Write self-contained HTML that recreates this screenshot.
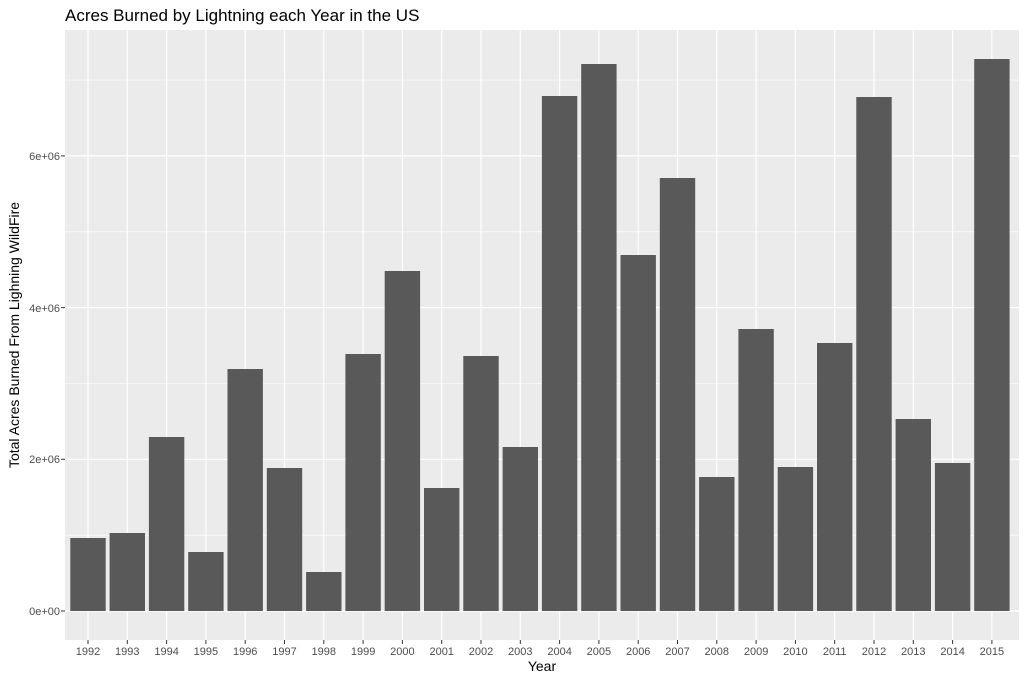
<!DOCTYPE html>
<html><head><style>body{margin:0;background:#fff}</style></head><body>
<svg width="1024" height="682" xmlns="http://www.w3.org/2000/svg" font-family="Liberation Sans, sans-serif">
<rect width="1024" height="682" fill="#fff"/>
<text x="65" y="21" font-size="17" fill="#000">Acres Burned by Lightning each Year in the US</text>
<rect x="65" y="30" width="954" height="610" fill="#ebebeb"/>
<g stroke="#fff" stroke-width="0.6">
<line x1="65" x2="1019" y1="535.2" y2="535.2"/><line x1="65" x2="1019" y1="383.5" y2="383.5"/><line x1="65" x2="1019" y1="231.8" y2="231.8"/><line x1="65" x2="1019" y1="80.1" y2="80.1"/>
</g>
<g stroke="#fff" stroke-width="1.2">
<line x1="65" x2="1019" y1="611" y2="611"/><line x1="65" x2="1019" y1="459.3" y2="459.3"/><line x1="65" x2="1019" y1="307.6" y2="307.6"/><line x1="65" x2="1019" y1="155.9" y2="155.9"/>
</g>
<g id="v" stroke="#fff" stroke-width="1.2"></g>
<g id="b" fill="#595959"></g>
<g id="t" font-size="11" fill="#4d4d4d" text-anchor="middle"></g>
<g font-size="11" fill="#4d4d4d" text-anchor="end">
<text x="60" y="615">0e+00</text><text x="60" y="463">2e+06</text><text x="60" y="312">4e+06</text><text x="60" y="160">6e+06</text>
</g>
<g stroke="#333" stroke-width="1">
<line x1="61" x2="65" y1="611" y2="611"/><line x1="61" x2="65" y1="459.3" y2="459.3"/><line x1="61" x2="65" y1="307.6" y2="307.6"/><line x1="61" x2="65" y1="155.9" y2="155.9"/>
</g>
<g id="xt" stroke="#333" stroke-width="1"></g>
<text x="542" y="671" font-size="14" text-anchor="middle">Year</text>
<text transform="translate(19,335) rotate(-90)" font-size="14" text-anchor="middle">Total Acres Burned From Lighning WildFire</text>
<script>
var tops=[538,533,437,552,369,468,572,354,271,488,356,447,96,64,255,178,477,329,467,343,97,419,463,59];
var ns="http://www.w3.org/2000/svg",b=document.getElementById('b'),t=document.getElementById('t'),v=document.getElementById('v'),xt=document.getElementById('xt');
for(var i=0;i<24;i++){var c=88+i*39.3;
var l=document.createElementNS(ns,'line');l.setAttribute('x1',c);l.setAttribute('x2',c);l.setAttribute('y1',30);l.setAttribute('y2',640);v.appendChild(l);
var r=document.createElementNS(ns,'rect');r.setAttribute('x',c-17.7);r.setAttribute('width',35.4);r.setAttribute('y',tops[i]);r.setAttribute('height',611-tops[i]);b.appendChild(r);
var k=document.createElementNS(ns,'line');k.setAttribute('x1',c);k.setAttribute('x2',c);k.setAttribute('y1',640);k.setAttribute('y2',644);xt.appendChild(k);
var s=document.createElementNS(ns,'text');s.setAttribute('x',c);s.setAttribute('y',655);s.textContent=1992+i;t.appendChild(s);}
</script>
</svg>
</body></html>
